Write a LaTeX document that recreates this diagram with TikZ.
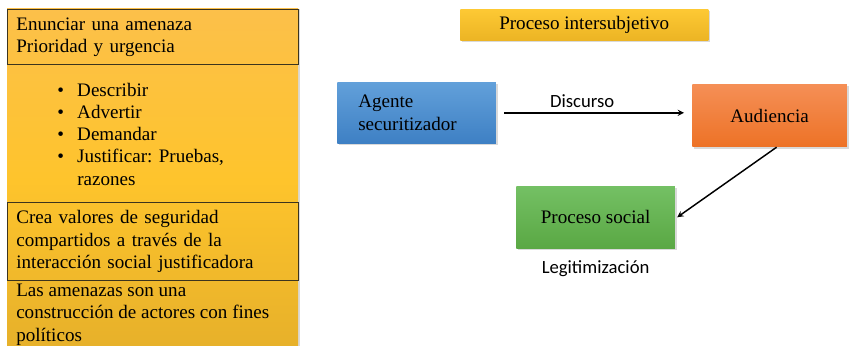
\documentclass[tikz,border=0pt]{standalone}
\usepackage{fontspec}
\setmainfont{Liberation Serif}
\newfontfamily\calib{Carlito}
\usepackage{tikz}
\usetikzlibrary{arrows,positioning,shadows,calc}

\definecolor{pnltop}{RGB}{252,192,74}
\definecolor{pnlmid}{RGB}{254,196,44}
\definecolor{pnlbot}{RGB}{230,176,42}
\definecolor{yeltop}{RGB}{253,201,52}
\definecolor{yelbot}{RGB}{236,180,36}
\definecolor{blutop}{RGB}{98,160,218}
\definecolor{blubot}{RGB}{62,128,196}
\definecolor{orgtop}{RGB}{245,143,86}
\definecolor{orgbot}{RGB}{237,114,38}
\definecolor{grntop}{RGB}{116,192,100}
\definecolor{grnbot}{RGB}{90,168,68}
\definecolor{boxline}{RGB}{60,52,30}

\tikzset{
  txt/.style={font=\fontsize{14.3}{16.6}\selectfont, inner sep=0pt, align=left},
  sans/.style={font=\calib\fontsize{14}{16}\selectfont, inner sep=0pt},
  framed/.style={draw=boxline, line width=.8pt, anchor=north west, inner xsep=6.5pt,
    minimum width=218.25pt, text width=205pt, align=left, font=\fontsize{14.3}{16.6}\selectfont},
  block/.style={anchor=north west, font=\fontsize{14.3}{16.6}\selectfont,
    drop shadow={opacity=.3, shadow xshift=1.2pt, shadow yshift=-1.2pt}},
  flow/.style={-stealth, line width=1.1pt, shorten <=6pt, shorten >=6pt}
}

\begin{document}
\begin{tikzpicture}[x=0.75pt, y=-0.75pt]
  \useasboundingbox (0,0) rectangle (849,346);

  % left panel
  \fill[drop shadow={opacity=.3, shadow xshift=1.5pt, shadow yshift=0pt},
        top color=pnltop, bottom color=pnlbot, middle color=pnlmid]
    (7,9) rectangle (298,352);
  \node (amenaza)[framed, minimum height=41.25pt] at (7,9)
    {Enunciar una amenaza\\Prioridad y urgencia};
  \node (acciones)[txt, anchor=north west] at (57,83)
    {\makebox[15pt][l]{\textbullet}Describir\\
     \makebox[15pt][l]{\textbullet}Advertir\\
     \makebox[15pt][l]{\textbullet}Demandar\\
     \makebox[15pt][l]{\textbullet}Justificar: Pruebas,\\
     \makebox[15pt][l]{}razones};
  \node (valores)[framed, minimum height=58.5pt] at (7,202)
    {Crea valores de seguridad\\compartidos a trav\'es de la\\interacci\'on social justificadora};
  \node (construc)[txt, anchor=north west] at (16,284)
    {Las amenazas son una\\construcci\'on de actores con fines\\pol\'iticos};

  % right side
  \node (proceso)[block, top color=yeltop, bottom color=yelbot,
    minimum width=186pt, minimum height=23.25pt] at (460,9) {Proceso intersubjetivo};
  \node (agente)[block, top color=blutop, bottom color=blubot, align=left,
    text width=87.5pt, inner xsep=15.75pt, minimum height=45.75pt, minimum width=119pt] at (337,82)
    {Agente\\securitizador};
  \node (audiencia)[block, top color=orgtop, bottom color=orgbot,
    minimum width=116pt, minimum height=47pt] at (692,84) {Audiencia};
  \node (social)[block, top color=grntop, bottom color=grnbot,
    minimum width=119pt, minimum height=46.5pt] at (516,186) {Proceso social};

  \draw[flow] (agente.east) -- (agente.east -| audiencia.west)
    node[sans, midway, above=3.5pt, xshift=-9pt] (discurso) {Discurso};
  \draw[-stealth, line width=1.1pt] ($(audiencia.south)+(7,0)$) -- ($(social.east)+(2,0)$);
  \node (legit)[sans, below=9pt of social] {Legitimizaci\'on};
\end{tikzpicture}
\end{document}
